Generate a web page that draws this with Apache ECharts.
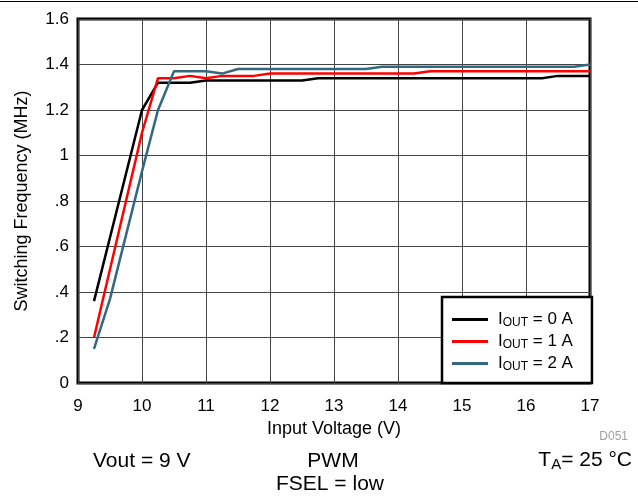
<!DOCTYPE html>
<html>
<head>
<meta charset="utf-8">
<script src="https://cdn.jsdelivr.net/npm/echarts@6/dist/echarts.min.js"></script>
<style>html,body{margin:0;padding:0;background:#fff}#c{width:638px;height:497px}</style>
</head>
<body>
<div id="c"></div>
<script>
// ---- data ----
var seriesNames = ['IOUT = 0 A', 'IOUT = 1 A', 'IOUT = 2 A'];
var legendLabels = ['0 A', '1 A', '2 A'];
var vin0 = [9.25, 10, 10.25, 10.75, 11, 12.5, 12.75, 16.25, 16.5, 17];
var f0   = [0.36, 1.20, 1.32, 1.32, 1.33, 1.33, 1.34, 1.34, 1.35, 1.35];
var vin1 = [9.25, 10, 10.25, 10.5, 10.75, 11, 11.25, 11.75, 12, 14.25, 14.5, 17];
var f1   = [0.20, 1.10, 1.34, 1.34, 1.35, 1.34, 1.35, 1.35, 1.36, 1.36, 1.37, 1.37];
var vin2 = [9.25, 9.5, 10, 10.25, 10.5, 11, 11.25, 11.5, 13.5, 13.75, 16.75, 17];
var f2   = [0.15, 0.37, 0.93, 1.20, 1.37, 1.37, 1.36, 1.38, 1.38, 1.39, 1.39, 1.40];
var xTicks = [9, 10, 11, 12, 13, 14, 15, 16, 17];
var yTickLabels = {'0':'0','0.2':'.2','0.4':'.4','0.6':'.6','0.8':'.8','1':'1','1.2':'1.2','1.4':'1.4','1.6':'1.6'};
var colors = ['#000000', '#ff0000', '#33687f'];

function zip(a, b) { return a.map(function (v, i) { return [v, b[i]]; }); }
var xs = [vin0, vin1, vin2], ys = [f0, f1, f2];

var FONT = '"Liberation Sans", Arial, sans-serif';
var chart = echarts.init(document.getElementById('c'), null, {renderer: 'canvas'});
chart.setOption({
  animation: false,
  backgroundColor: '#fff',
  textStyle: {fontFamily: FONT},
  grid: {left: 78, right: 48, top: 19, bottom: 114, show: true, borderColor: '#000', borderWidth: 3, backgroundColor: 'transparent'},
  xAxis: {
    type: 'value', min: xTicks[0], max: xTicks[xTicks.length - 1], interval: 1,
    name: 'Input Voltage (V)', nameLocation: 'middle', nameGap: 33,
    nameTextStyle: {fontSize: 18, color: '#000', fontFamily: FONT},
    axisLine: {show: false}, axisTick: {show: false},
    axisLabel: {fontSize: 17, color: '#000', margin: 15, fontFamily: FONT},
    splitLine: {show: true, lineStyle: {color: '#444', width: 1}}
  },
  yAxis: {
    type: 'value', min: 0, max: 1.6, interval: 0.2,
    name: 'Switching Frequency (MHz)', nameLocation: 'middle', nameGap: 47,
    nameTextStyle: {fontSize: 18, color: '#000', fontFamily: FONT},
    axisLine: {show: false}, axisTick: {show: false},
    axisLabel: {fontSize: 17, color: '#000', margin: 9, fontFamily: FONT,
      formatter: function (v) { return yTickLabels[String(Math.round(v * 10) / 10)]; }},
    splitLine: {show: true, lineStyle: {color: '#444', width: 1}}
  },
  legend: {
    orient: 'vertical', left: 442, top: 297,
    data: seriesNames,
    icon: 'rect',
    backgroundColor: '#fff', borderColor: '#000', borderWidth: 2.5,
    padding: [13, 19, 10, 10], itemWidth: 36, itemHeight: 3, itemGap: 3,
    formatter: function (name) {
      var i = seriesNames.indexOf(name);
      return '{i|I}{s|OUT}{t| = ' + legendLabels[i] + '}';
    },
    textStyle: {
      color: '#000', fontFamily: FONT, padding: [0, 0, 0, 5],
      rich: {
        i: {fontSize: 17, fontFamily: FONT, color: '#000', lineHeight: 19},
        s: {fontSize: 12, fontFamily: FONT, color: '#000', padding: [7, 0, 0, 0], lineHeight: 19},
        t: {fontSize: 17, fontFamily: FONT, color: '#000', lineHeight: 19}
      }
    }
  },
  series: seriesNames.map(function (n, k) {
    return {
      name: n, type: 'line', data: zip(xs[k], ys[k]), symbol: 'none',
      lineStyle: {color: colors[k], width: 2.5}, itemStyle: {color: colors[k]}, z: 3 + k
    };
  }),
  graphic: [
    {type: 'line', shape: {x1: 0, y1: 1.5, x2: 638, y2: 1.5}, style: {stroke: '#000', lineWidth: 1}},
    {type: 'text', x: 93, y: 461, style: {text: 'Vout = 9 V', font: '21px ' + FONT, fill: '#000', textVerticalAlign: 'middle'}},
    {type: 'text', x: 333, y: 461, style: {text: 'PWM', font: '21px ' + FONT, fill: '#000', textAlign: 'center', textVerticalAlign: 'middle'}},
    {type: 'text', x: 330, y: 484, style: {text: 'FSEL = low', font: '21px ' + FONT, fill: '#000', textAlign: 'center', textVerticalAlign: 'middle'}},
    {type: 'text', right: 6, top: 450, style: {
      text: '{a|T}{b|A}{a|= 25 °C}', fill: '#000',
      rich: {a: {fontSize: 21, fontFamily: FONT, color: '#000'}, b: {fontSize: 15, fontFamily: FONT, color: '#000', padding: [8, 0, 0, 0]}}
    }},
    {type: 'text', right: 10, top: 431, style: {text: 'D051', font: '12px ' + FONT, fill: '#a0a0a0'}}
  ]
});
</script>
</body>
</html>
